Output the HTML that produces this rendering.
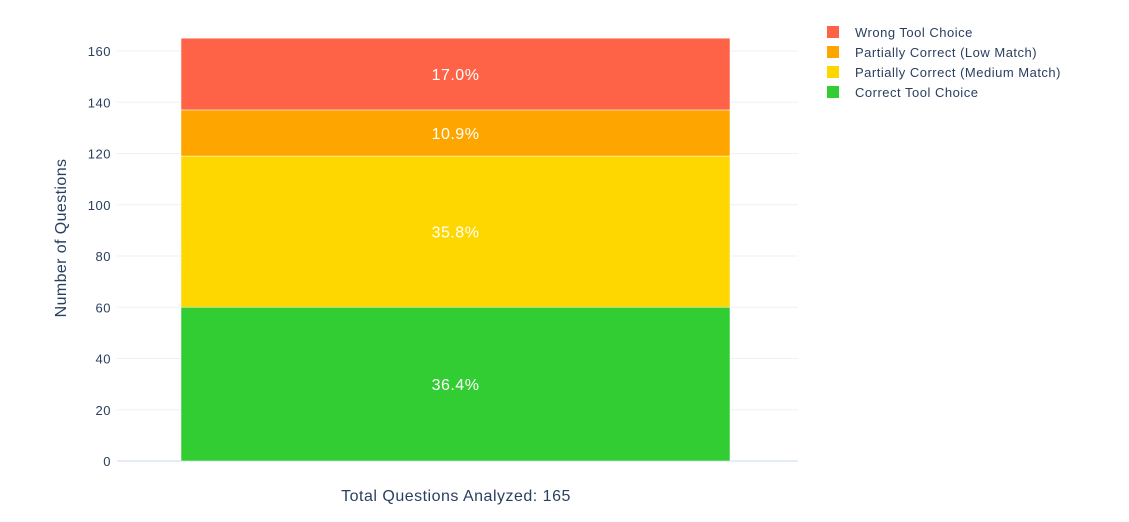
<!DOCTYPE html>
<html><head><meta charset="utf-8"><style>
body{margin:0;background:#fff;font-family:"Liberation Sans",Arial,sans-serif;}
svg text{font-family:"Liberation Sans",Arial,sans-serif;}
</style></head><body>
<svg id="chart" width="1129" height="517" xmlns="http://www.w3.org/2000/svg">
<g id="grid"></g><g id="bars"></g><g id="labels"></g><g id="legend"></g>
<text x="66" y="238" transform="rotate(-90 66 238)" text-anchor="middle" font-size="16" letter-spacing="0.4" fill="#2a3f5f">Number of Questions</text>
<text x="456" y="501" text-anchor="middle" font-size="16" letter-spacing="0.5" fill="#2a3f5f">Total Questions Analyzed: 165</text>
</svg>
<script>
const categories = ["Correct Tool Choice","Partially Correct (Medium Match)","Partially Correct (Low Match)","Wrong Tool Choice"];
const values = [60,59,18,28];
const percents = ["36.4%","35.8%","10.9%","17.0%"];
const colors = ["#32cd32","#ffd700","#ffa500","#ff6347"];
const yTicks = [0,20,40,60,80,100,120,140,160];
const NS="http://www.w3.org/2000/svg";
const y0=461, yScale=410/160, plotL=117, plotR=798, barL=181, barR=730;
const y=v=>y0-v*yScale;
function mk(tag,attrs,parent){const e=document.createElementNS(NS,tag);for(const k in attrs)e.setAttribute(k,attrs[k]);document.getElementById(parent).appendChild(e);return e;}
yTicks.forEach(t=>{
  const l=mk('line',{x1:plotL,x2:plotR,y1:y(t),y2:y(t),stroke:t===0?'#e5ecf6':'#eef0f4','stroke-width':t===0?2:1},'grid');
  
  
  const tx=mk('text',{x:111,y:y(t)+5,'text-anchor':'end','font-size':13,'letter-spacing':0.5,fill:'#2a3f5f'},'grid');
  tx.textContent=t;
  
  
});
let cum=0;
values.forEach((v,i)=>{
  const top=y(cum+v), bot=y(cum);
  const r=mk('rect',{x:barL,y:top,width:barR-barL,height:bot-top,fill:colors[i],stroke:'#fff','stroke-width':0.5},'bars');
  
  
  const t=mk('text',{x:(barL+barR)/2,y:(top+bot)/2+6,'text-anchor':'middle','font-size':16,'letter-spacing':0.5,fill:'#fff'},'labels');
  t.textContent=percents[i];
  
  
  cum+=v;
});
for(let i=3;i>=0;i--){
  const row=3-i, cy=32+row*20;
  const s=mk('rect',{x:827,y:cy-6,width:12,height:12,fill:colors[i]},'legend');
  
  
  const t=mk('text',{x:855,y:cy+5,'font-size':13,'letter-spacing':0.5,fill:'#2a3f5f'},'legend');
  t.textContent=categories[i];
  
  
}
</script>
</body></html>
